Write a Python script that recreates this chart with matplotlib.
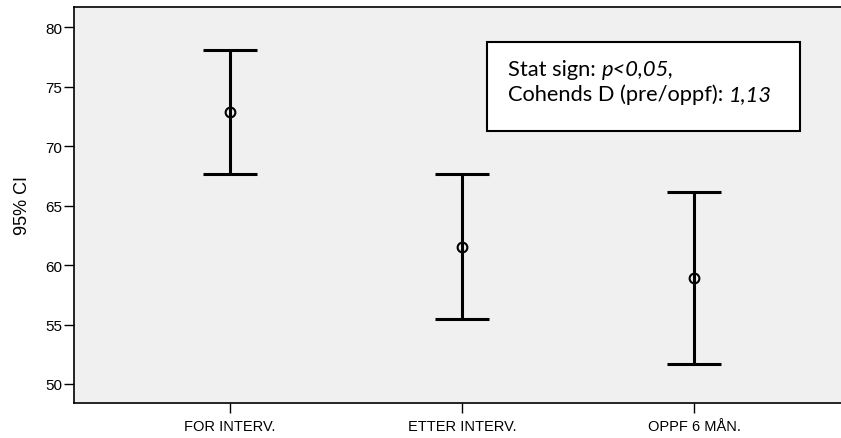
import matplotlib.pyplot as plt

# Verdier lest av figuren (95% KI rundt gjennomsnitt)
GROUPS = ["FOR INTERV.", "ETTER INTERV.", "OPPF 6 MÅN."]
MEANS = [72.9, 61.55, 58.9]
LOWER = [67.65, 55.45, 51.65]
UPPER = [78.1, 67.65, 66.15]

BG = "#f0f0f0"
SANS = "Liberation Sans"

fig = plt.figure(figsize=(8.41, 4.39), dpi=100)
W, H = 841, 439
ax = fig.add_axes([74 / W, (H - 404) / H, 776 / W, 396 / H])
ax.set_facecolor(BG)

xs = list(range(len(GROUPS)))
yerr = [[m - lo for m, lo in zip(MEANS, LOWER)],
        [hi - m for m, hi in zip(MEANS, UPPER)]]
ax.errorbar(xs, MEANS, yerr=yerr, fmt="none", ecolor="black",
            elinewidth=2.2, capsize=19.5, capthick=2.2)
ax.plot(xs, MEANS, linestyle="none", marker="o", markersize=7,
        markerfacecolor="none", markeredgecolor="black", markeredgewidth=1.5,
        zorder=4)

ax.set_xlim(-0.672, 2.672)
ax.set_ylim(48.4, 81.7)
ax.set_yticks([50, 55, 60, 65, 70, 75, 80])
ax.set_xticks(xs)
ax.set_xticklabels(GROUPS)
ax.tick_params(axis="both", direction="out", length=7.5, width=1.0,
               colors="black")
ax.tick_params(axis="x", pad=4, labelsize=10.5)
ax.tick_params(axis="y", pad=1, labelsize=11)
for lab in ax.get_xticklabels() + ax.get_yticklabels():
    lab.set_family(SANS)
for sp in ax.spines.values():
    sp.set_linewidth(1.2)
    sp.set_color("black")

ax.set_ylabel("95% CI", fontsize=13, family=SANS, labelpad=10)

# Tekstboks med statistikk
box = plt.Rectangle((486.7 / W, (H - 132.3) / H), (800 - 486.7) / W,
                    (132.3 - 42.7) / H, transform=fig.transFigure,
                    facecolor="white", edgecolor="black", linewidth=1.5,
                    zorder=5)
fig.add_artist(box)

FONT = "Lato"
fig.canvas.draw()
rend = fig.canvas.get_renderer()


def text_run(parts, x_px, y_px, fs):
    x = x_px
    for s, style in parts:
        t = fig.text(x / W, (H - y_px) / H, s, fontsize=fs, family=FONT,
                     style=style, va="center", ha="left", zorder=6)
        x += t.get_window_extent(renderer=rend).width
    return x - x_px


# skaler skriftstørrelsen slik at linje 2 blir ca. 265 px bred
line1 = [("Stat sign: ", "normal"), ("p<0,05,", "italic")]
line2 = [("Cohends D (pre/oppf): ", "normal"), ("1,13", "italic")]
probe = text_run(line2, -2000, -2000, 10)
for t in list(fig.texts):
    t.remove()
fs = 10 * 265 / probe

text_run(line1, 508, 70, fs)
text_run(line2, 508, 95, fs)

fig.savefig("out.png", dpi=100)
